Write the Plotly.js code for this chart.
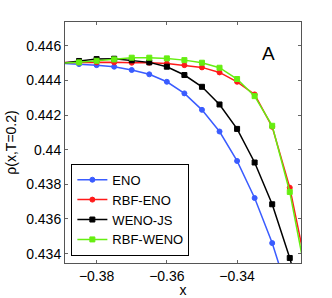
<!DOCTYPE html>
<html>
<head>
<meta charset="utf-8">
<script src="https://cdn.plot.ly/plotly-3.0.1.min.js"></script>
<style>html,body{margin:0;padding:0;background:#fff;}#chart{width:332px;height:298px;}</style>
</head>
<body>
<div id="chart"></div>
<script>
const xs = [-0.39, -0.385, -0.38, -0.375, -0.37, -0.365, -0.36, -0.355, -0.35, -0.345, -0.34, -0.335, -0.33, -0.325, -0.32];
const eno     = [0.44498, 0.44494, 0.44488, 0.44479, 0.44460, 0.44435, 0.44392, 0.44325, 0.44230, 0.44105, 0.43935, 0.43721, 0.43461, 0.43142, 0.42780];
const rbfEno  = [0.44503, 0.44504, 0.44504, 0.44504, 0.44502, 0.44502, 0.44497, 0.44488, 0.44475, 0.44446, 0.44392, 0.44319, 0.44132, 0.43781, 0.43288];
const wenoJs  = [0.44500, 0.44512, 0.44523, 0.44525, 0.44516, 0.44504, 0.44479, 0.44431, 0.44363, 0.44261, 0.44120, 0.43926, 0.43685, 0.43375, 0.43003];
const rbfWeno = [0.44500, 0.44504, 0.44513, 0.44521, 0.44531, 0.44531, 0.44527, 0.44517, 0.44502, 0.44473, 0.44408, 0.44309, 0.44138, 0.43756, 0.43230];
const names = ["ENO", "RBF-ENO", "WENO-JS", "RBF-WENO"];
const yTickVals = [0.434, 0.436, 0.438, 0.440, 0.442, 0.444, 0.446];
const yTickText = ["0.434", "0.436", "0.438", "0.44", "0.442", "0.444", "0.446"];
const xTickVals = [-0.38, -0.36, -0.34];
const xTickText = ["\u22120.38", "\u22120.36", "\u22120.34"];

const series = [eno, rbfEno, wenoJs, rbfWeno];
const colors = ["#3a5cff", "#ff1a1a", "#000000", "#66ee11"];
const symbols = ["circle", "circle", "square", "square"];

const traces = series.map((ys, i) => ({
  x: xs, y: ys, name: names[i], type: "scatter", mode: "lines+markers",
  line: {color: colors[i], width: 1.5},
  marker: {color: colors[i], symbol: symbols[i], size: 5, line: {color: colors[i], width: 1}},
  cliponaxis: true
}));

const font = {family: "Liberation Sans, Arial, sans-serif", size: 14, color: "#000"};
const layout = {
  width: 332, height: 298,
  margin: {l: 65, r: 31, t: 22, b: 35},
  paper_bgcolor: "#fff", plot_bgcolor: "#fff",
  font: font,
  showlegend: true,
  legend: {x: 0.027, y: 0.03, xanchor: "left", yanchor: "bottom",
    bgcolor: "#fff", bordercolor: "#000", borderwidth: 1,
    font: {family: font.family, size: 13, color: "#000"},
    itemwidth: 30, tracegroupgap: 0},
  xaxis: {range: [-0.389, -0.3218], tickvals: xTickVals, ticktext: xTickText,
    ticks: "inside", ticklen: 3, tickcolor: "#666", mirror: "ticks",
    showline: true, linecolor: "#555", linewidth: 1, showgrid: false, zeroline: false,
    title: {text: "x", font: {size: 14}, standoff: 2}},
  yaxis: {range: [0.43346, 0.44737], tickvals: yTickVals, ticktext: yTickText,
    ticks: "inside", ticklen: 3, tickcolor: "#666", mirror: "ticks",
    showline: true, linecolor: "#555", linewidth: 1, showgrid: false, zeroline: false,
    title: {text: "\u03c1(x,T=0.2)", font: {size: 14}, standoff: 6}},
  annotations: [{text: "A", xref: "paper", yref: "paper", x: 0.9, y: 0.92,
    showarrow: false, font: {family: font.family, size: 19, color: "#000"}}]
};
Plotly.newPlot("chart", traces, layout, {displayModeBar: false, staticPlot: true});
</script>
</body>
</html>
